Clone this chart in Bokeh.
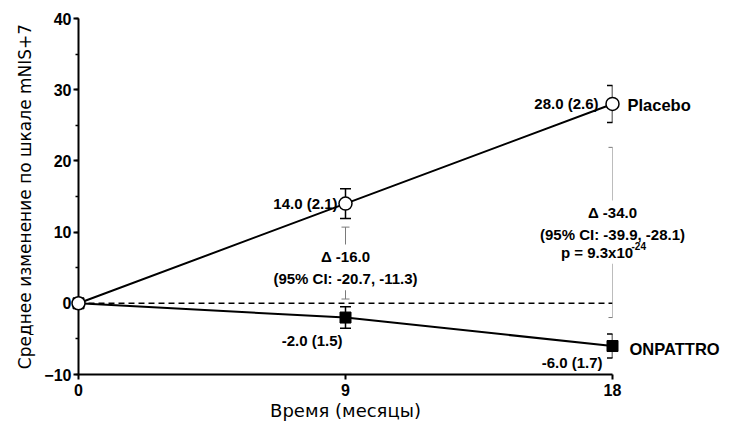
from bokeh.plotting import figure
from bokeh.models import (Range1d, SingleIntervalTicker, FixedTicker, Whisker, TeeHead,
                          ColumnDataSource, Span)
from bokeh.core.properties import value
from bokeh.embed import file_html
from bokeh.resources import INLINE

# ---- data ----
months = [0, 9, 18]
placebo = [0.0, 14.0, 28.0]
placebo_se = [0.0, 2.1, 2.6]
onpattro = [0.0, -2.0, -6.0]
onpattro_se = [0.0, 1.5, 1.7]
series_names = ["Placebo", "ONPATTRO"]
delta_months = [9, 18]
delta_vals = [-16.0, -34.0]
ci_low = [-20.7, -39.9]
ci_high = [-11.3, -28.1]
delta_bar_top = [10.7, 21.9]
delta_bar_bottom = [0.6, -2.0]
p_mantissa = "9.3x10"
p_exponent = "-24"
y_ticks_interval = 10
x_ticks = [0, 9, 18]
x_title = "Время (месяцы)"
y_title = "Среднее изменение по шкале mNIS+7"

FONT = "Liberation Sans"
BOLD = value(FONT)

p = figure(width=732, height=424, x_range=Range1d(0, 18), y_range=Range1d(-10, 40),
           output_backend="svg", toolbar_location=None,
           min_border_left=78, min_border_right=120, min_border_top=18, min_border_bottom=50)
p.grid.visible = False
p.outline_line_color = None
p.background_fill_color = "white"

# axes
p.yaxis.ticker = SingleIntervalTicker(interval=y_ticks_interval, num_minor_ticks=2)
p.xaxis.ticker = FixedTicker(ticks=x_ticks, minor_ticks=[])
for ax in (p.xaxis, p.yaxis):
    ax.axis_line_width = 2
    ax.axis_line_color = "black"
    ax.major_tick_line_width = 2
    ax.major_tick_line_color = "black"
    ax.major_tick_out = 5
    ax.major_tick_in = 0
    ax.minor_tick_out = 3
    ax.minor_tick_in = 0
    ax.minor_tick_line_width = 1.5
    ax.minor_tick_line_color = "black"
    ax.major_label_text_font = FONT
    ax.major_label_text_font_style = "bold"
    ax.major_label_text_font_size = "16px"
    ax.major_label_text_color = "black"
    ax.axis_label_text_font = "DejaVu Sans"
    ax.axis_label_text_font_style = "normal"
    ax.axis_label_text_color = "black"
p.yaxis.axis_label = y_title
p.xaxis.axis_label = x_title
p.yaxis.axis_label_text_font_size = "17px"
p.xaxis.axis_label_text_font_size = "18px"
p.yaxis.major_label_standoff = 2
p.yaxis.axis_label_standoff = 6
p.xaxis.major_label_standoff = 4
p.xaxis.axis_label_standoff = 1

# zero dashed line
p.add_layout(Span(location=0, dimension="width", line_color="black", line_width=1.5,
                  line_dash="6 4"))

# connecting lines
p.line(months, placebo, line_color="black", line_width=2)
p.line(months, onpattro, line_color="black", line_width=2)

# error bars (SE)
for vals, ses in ((placebo, placebo_se), (onpattro, onpattro_se)):
    src = ColumnDataSource(dict(x=months[1:],
                                upper=[v + s for v, s in zip(vals[1:], ses[1:])],
                                lower=[v - s for v, s in zip(vals[1:], ses[1:])]))
    p.add_layout(Whisker(base="x", upper="upper", lower="lower", source=src, dimension="height",
                         line_color="black", line_width=1.5,
                         upper_head=TeeHead(size=11, line_color="black", line_width=1.5),
                         lower_head=TeeHead(size=11, line_color="black", line_width=1.5)))

# delta bars (grey)
dsrc = ColumnDataSource(dict(x=delta_months, upper=delta_bar_top, lower=delta_bar_bottom))
p.add_layout(Whisker(base="x", upper="upper", lower="lower", source=dsrc, dimension="height",
                     line_color="#7a7a7a", line_width=1,
                     upper_head=TeeHead(size=8, line_color="#7a7a7a", line_width=1),
                     lower_head=TeeHead(size=8, line_color="#7a7a7a", line_width=1)))

# delta texts (text glyphs on white boxes, overlay level so they are not clipped)
delta_text = [f"\u0394 {d:.1f}\n(95% CI: {lo:.1f}, {hi:.1f})"
              for d, lo, hi in zip(delta_vals, ci_low, ci_high)]
block_y = [5.05, 11.23]
box = dict(text_font=BOLD, text_font_style="bold", text_color="black",
           text_baseline="middle", background_fill_color="white", padding=3, level="overlay")
p.text(x=delta_months, y=block_y, text=delta_text, text_font_size="15px", text_align="center",
       text_line_height=1.33, **box)
p.text(x=[delta_months[1]], y=[7.16], x_offset=-15.5, text=[f"p = {p_mantissa}"],
       text_font_size="15px", text_align="center", **box)
p.text(x=[delta_months[1]], y=[8.0], x_offset=19, text=[p_exponent], text_font=BOLD,
       text_font_style="bold", text_font_size="10px", text_align="left",
       text_baseline="middle", text_color="black", level="overlay")

# markers
p.scatter(months, onpattro, marker="square", size=11, fill_color="black", line_color="black",
          level="overlay")
p.scatter(months, placebo, marker="circle", size=13, fill_color="white", line_color="black",
          line_width=1.5, level="overlay")

# point labels
plab = [f"{v:.1f} ({s:.1f})" for v, s in zip(placebo, placebo_se)]
olab = [f"{v:.1f} ({s:.1f})" for v, s in zip(onpattro, onpattro_se)]
common = dict(text_font=BOLD, text_font_style="bold", text_font_size="15px",
              text_color="black", text_baseline="middle", level="overlay")
p.text(x=[months[1]], y=[placebo[1]], text=[plab[1]], text_align="right", x_offset=-8, **common)
p.text(x=[months[2]], y=[placebo[2]], text=[plab[2]], text_align="right", x_offset=-14, **common)
p.text(x=[months[1]], y=[onpattro[1]], text=[olab[1]], text_align="right", x_offset=-3,
       y_offset=23, **common)
p.text(x=[months[2]], y=[onpattro[2]], text=[olab[2]], text_align="right", x_offset=-10,
       y_offset=16, **common)

# series names
name_style = dict(text_font=BOLD, text_font_style="bold", text_font_size="16.5px",
                  text_color="black", text_baseline="middle", text_align="left", level="overlay")
p.text(x=[months[-1]], y=[placebo[-1]], text=[series_names[0]], x_offset=15, y_offset=1.5,
       **name_style)
p.text(x=[months[-1]], y=[onpattro[-1]], text=[series_names[1]], x_offset=17, y_offset=3,
       **name_style)

open("out.html", "w").write(file_html(p, INLINE))
